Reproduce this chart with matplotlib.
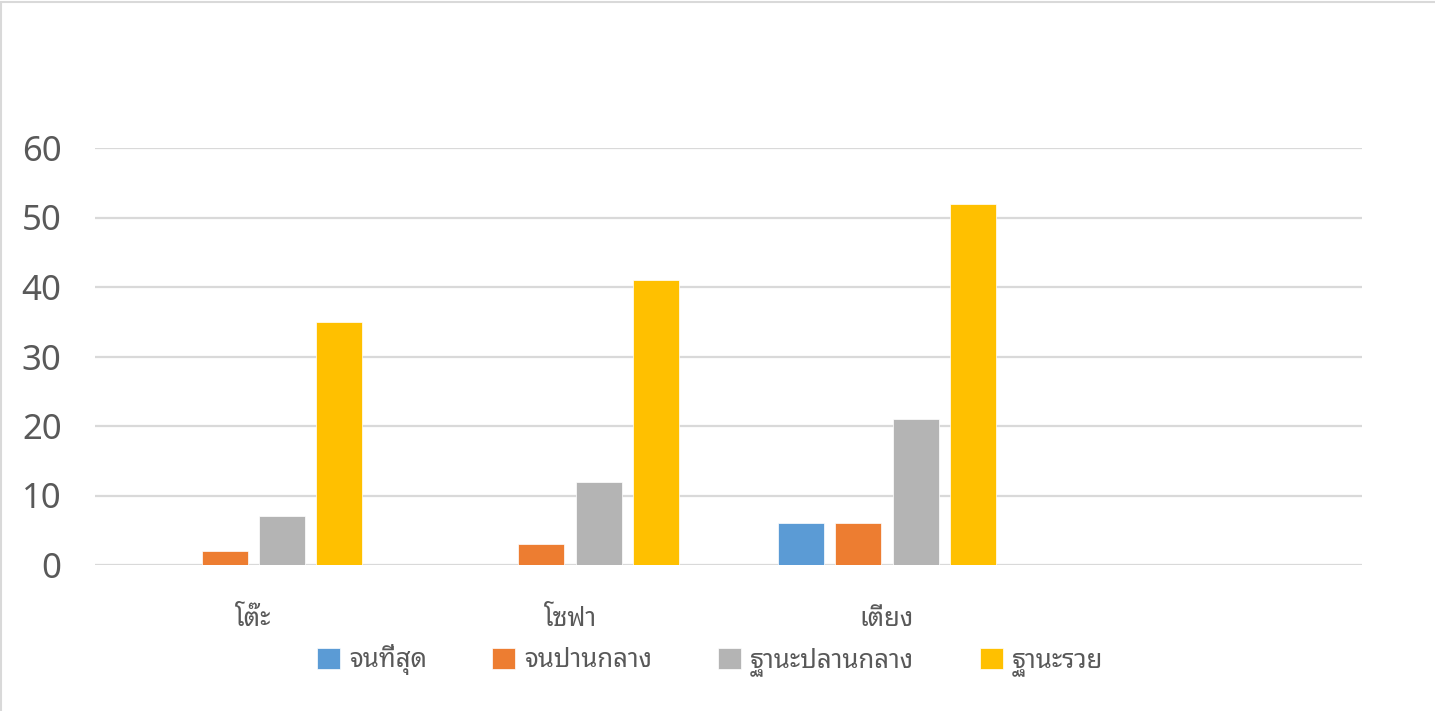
import matplotlib
matplotlib.use("Agg")
import matplotlib.pyplot as plt
from matplotlib.patches import Rectangle
import numpy as np

plt.rcParams['font.family'] = ['Noto Sans Thai Looped', 'Noto Sans', 'DejaVu Sans']

categories = ['โต๊ะ', 'โซฟา', 'เตียง', '']
series = ['จนที่สุด', 'จนปานกลาง', 'ฐานะปลานกลาง', 'ฐานะรวย']
values = [
    [0, 0, 6, 0],
    [2, 3, 6, 0],
    [7, 12, 21, 0],
    [35, 41, 52, 0],
]
colors = ['#5B9BD5', '#ED7D31', '#B4B4B4', '#FFC000']

fig = plt.figure(figsize=(14.35, 7.11), dpi=100)
ax = fig.add_axes([95/1435, 1-565/711, 1267/1435, 417/711])

# light chart border (only top and left visible)
fig.patches.append(Rectangle((1/1435, -0.05), 1.1, 0.05 + 1 - 2/711, transform=fig.transFigure,
                             fill=False, edgecolor='#D9D9D9', linewidth=1.5))

x = np.arange(len(categories))
w = 0.145
step = 0.181
for i, (name, vals) in enumerate(zip(series, values)):
    ax.bar(x + (i - 1.5) * step, vals, w, color=colors[i], label=name,
           edgecolor='white', linewidth=0.5)

ax.set_xlim(-0.5, 3.5)
ax.set_ylim(0, 60)
ax.set_yticks(range(0, 61, 10))
ax.set_xticks(x)
ax.set_xticklabels(categories)
ax.grid(axis='y', color='#D9D9D9', linewidth=1.6)
ax.set_axisbelow(True)
for s in ax.spines.values():
    s.set_visible(False)
ax.tick_params(length=0, colors='#595959', labelsize=25, pad=24)
ax.tick_params(axis='x', labelsize=18.5, pad=30)

fig.legend(loc='center', bbox_to_anchor=(710/1435, 1-660/711), ncol=4, frameon=False,
           fontsize=18.5, labelcolor='#595959', handlelength=0.9, handleheight=0.9,
           handletextpad=0.35, columnspacing=2.55)
plt.savefig('out.png', dpi=100)
